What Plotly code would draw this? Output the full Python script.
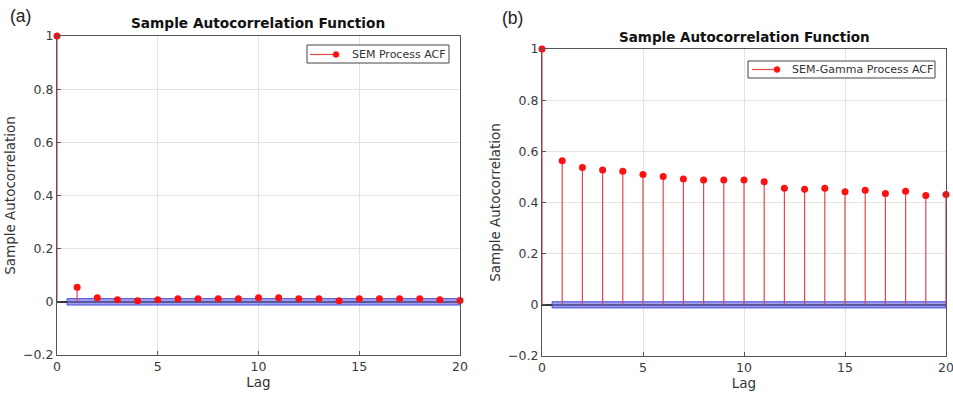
import plotly.graph_objects as go

# ---- data ----
lags = list(range(0, 21))
acf_sem = [1.0, 0.055, 0.015, 0.008, 0.004, 0.008, 0.012, 0.012, 0.012, 0.012,
           0.015, 0.015, 0.012, 0.012, 0.004, 0.012, 0.012, 0.012, 0.012, 0.008, 0.005]
acf_gamma = [1.0, 0.563, 0.537, 0.527, 0.522, 0.509, 0.502, 0.492, 0.488, 0.488,
             0.488, 0.481, 0.456, 0.452, 0.456, 0.442, 0.448, 0.435, 0.444, 0.427, 0.431]
conf_bound_a = 0.012
conf_bound_b = 0.012
band_start = 0.5
band_end = 20
panel_labels = ["(a)", "(b)"]
titles = ["Sample Autocorrelation Function", "Sample Autocorrelation Function"]
legend_names = ["SEM Process ACF", "SEM-Gamma Process ACF"]
x_ticks = [0, 5, 10, 15, 20]
y_ticks = [-0.2, 0, 0.2, 0.4, 0.6, 0.8, 1]
y_tick_text = ["\u22120.2", "0", "0.2", "0.4", "0.6", "0.8", "1"]

W, H = 953, 393
FONT = "DejaVu Sans"
STEM = "#e0484e"
MARK = "#ff1010"

fig = go.Figure()

panels = [
    dict(vals=acf_sem, bound=conf_bound_a, xd=[57 / W, 460 / W], yd=[1 - 355 / H, 1 - 36 / H],
         xa="x", ya="y",
         leg=dict(box=(307, 45, 449, 63), line=(310, 336), cy=54.5, tx=350)),
    dict(vals=acf_gamma, bound=conf_bound_b, xd=[542 / W, 946 / W], yd=[1 - 356 / H, 1 - 49 / H],
         xa="x2", ya="y2",
         leg=dict(box=(748, 61, 935, 78), line=(752, 777), cy=69.5, tx=790)),
]

for i, p in enumerate(panels):
    # confidence band
    fig.add_trace(go.Scatter(x=[band_start, band_end, band_end, band_start, band_start],
                             y=[p["bound"], p["bound"], -p["bound"], -p["bound"], p["bound"]],
                             mode="lines", fill="toself", fillcolor="rgba(110,110,225,0.65)",
                             line=dict(color="rgba(60,60,220,0.9)", width=1),
                             xaxis=p["xa"], yaxis=p["ya"], showlegend=False, hoverinfo="skip"))
    # stems
    sx, sy = [], []
    for k, v in zip(lags, p["vals"]):
        sx += [k, k, None]
        sy += [0, v, None]
    fig.add_trace(go.Scatter(x=sx, y=sy, mode="lines", line=dict(color=STEM, width=1.2),
                             xaxis=p["xa"], yaxis=p["ya"], showlegend=False, hoverinfo="skip"))
    # markers
    fig.add_trace(go.Scatter(x=lags, y=p["vals"], mode="markers", name=legend_names[i],
                             marker=dict(color=MARK, size=7), cliponaxis=False,
                             xaxis=p["xa"], yaxis=p["ya"], showlegend=False))

axis_common = dict(showgrid=True, gridcolor="#e3e3e3", gridwidth=1, showline=True,
                   linecolor="#555555", linewidth=1.3, mirror=True, ticks="inside",
                   ticklen=4, tickcolor="#555555", automargin=False,
                   ticklabeloverflow="allow",
                   tickfont=dict(family=FONT, size=12.5, color="#3a3a3a"))

for i, p in enumerate(panels):
    sfx = "" if i == 0 else "2"
    fig.update_layout(**{
        "xaxis" + sfx: dict(domain=p["xd"], range=[0, 20], tickvals=x_ticks, anchor="y" + sfx,
                            title=dict(text="Lag", font=dict(family=FONT, size=13.5, color="#333333"),
                                       standoff=0), zeroline=False, **axis_common),
        "yaxis" + sfx: dict(domain=p["yd"], range=[-0.2, 1], tickvals=y_ticks, ticktext=y_tick_text,
                            anchor="x" + sfx,
                            title=dict(text="Sample Autocorrelation",
                                       font=dict(family=FONT, size=13.5, color="#333333"), standoff=4),
                            zeroline=True, zerolinecolor="#333333", zerolinewidth=1.5,
                            **axis_common),
    })

annotations = [
    dict(text=panel_labels[0], x=8 / W, y=1 - 16 / H, xref="paper", yref="paper", showarrow=False,
         xanchor="left", yanchor="middle", font=dict(family="Liberation Sans", size=17.5, color="#222")),
    dict(text=panel_labels[1], x=500 / W, y=1 - 18 / H, xref="paper", yref="paper", showarrow=False,
         xanchor="left", yanchor="middle", font=dict(family="Liberation Sans", size=17.5, color="#222")),
    dict(text="<b>" + titles[0] + "</b>", x=258 / W, y=1 - 23 / H, xref="paper", yref="paper",
         showarrow=False, xanchor="center", yanchor="middle",
         font=dict(family=FONT, size=13.7, color="#111")),
    dict(text="<b>" + titles[1] + "</b>", x=744 / W, y=1 - 37 / H, xref="paper", yref="paper",
         showarrow=False, xanchor="center", yanchor="middle",
         font=dict(family=FONT, size=13.5, color="#111")),
]

shapes = []
for i, p in enumerate(panels):
    lg = p["leg"]
    x0, y0, x1, y1 = lg["box"]
    shapes.append(dict(type="rect", xref="paper", yref="paper",
                       x0=x0 / W, x1=x1 / W, y0=1 - y0 / H, y1=1 - y1 / H,
                       fillcolor="white", line=dict(color="#444444", width=1), layer="above"))
    shapes.append(dict(type="line", xref="paper", yref="paper",
                       x0=lg["line"][0] / W, x1=lg["line"][1] / W,
                       y0=1 - lg["cy"] / H, y1=1 - lg["cy"] / H,
                       line=dict(color=STEM, width=1.2), layer="above"))
    r = 3
    shapes.append(dict(type="circle", xref="paper", yref="paper",
                       x0=(lg["line"][1] - r) / W, x1=(lg["line"][1] + r) / W,
                       y0=1 - (lg["cy"] - r) / H, y1=1 - (lg["cy"] + r) / H,
                       fillcolor=MARK, line=dict(color=MARK, width=0.5), layer="above"))
    annotations.append(dict(text=legend_names[i], x=lg["tx"] / W, y=1 - lg["cy"] / H,
                            xref="paper", yref="paper", showarrow=False,
                            xanchor="left", yanchor="middle",
                            font=dict(family=FONT, size=11, color="#333333")))

fig.update_layout(
    width=W, height=H, margin=dict(l=0, r=0, t=0, b=0, autoexpand=False),
    paper_bgcolor="white", plot_bgcolor="white",
    annotations=annotations, shapes=shapes, showlegend=False,
)

fig.write_html("out.html", config={"displayModeBar": False},
               post_script="document.body.style.margin='0';document.body.style.padding='0';"
                           "document.body.style.overflow='hidden';")
